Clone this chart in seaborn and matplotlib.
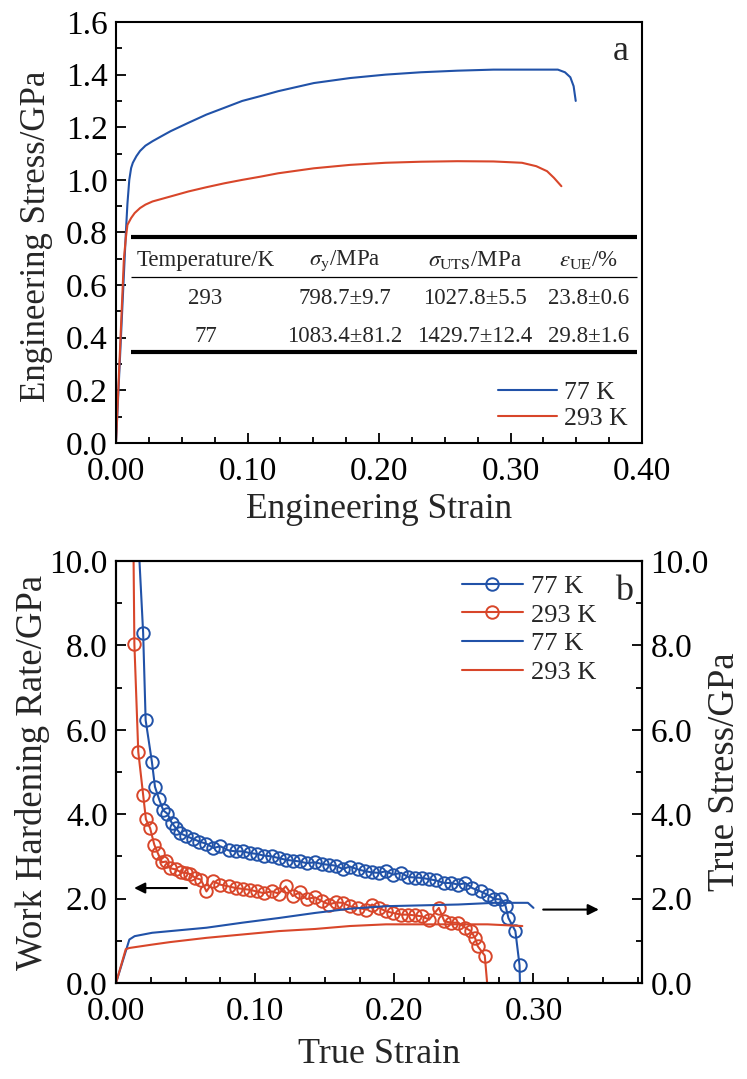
import numpy as np
import pandas as pd
import matplotlib
matplotlib.use("Agg")
import matplotlib.pyplot as plt
from matplotlib.ticker import MultipleLocator, FormatStrFormatter
import seaborn as sns

# ---------------- data: panel a (engineering curves) ----------------
eng_strain_77 = [0.0, 0.0075, 0.0087, 0.0101, 0.0115, 0.0128, 0.0155, 0.0183, 0.0224, 0.0278,
                 0.0346, 0.0415, 0.0551, 0.0687, 0.0824, 0.096, 0.1096, 0.1233, 0.1505, 0.178,
                 0.205, 0.232, 0.2596, 0.287, 0.314, 0.336, 0.3414, 0.3455, 0.348, 0.3496]
eng_stress_77 = [0.0, 0.80, 0.91, 1.0, 1.045, 1.065, 1.09, 1.11, 1.13, 1.147,
                 1.166, 1.185, 1.217, 1.248, 1.274, 1.30, 1.318, 1.337, 1.368, 1.387,
                 1.40, 1.409, 1.415, 1.419, 1.419, 1.419, 1.409, 1.39, 1.356, 1.30]
eng_strain_293 = [0.0, 0.006, 0.0075, 0.0087, 0.0115, 0.0142, 0.0183, 0.0224, 0.0278, 0.0415,
                  0.0551, 0.0687, 0.0824, 0.096, 0.1096, 0.1233, 0.1505, 0.178, 0.205, 0.232,
                  0.2596, 0.287, 0.3087, 0.3196, 0.3278, 0.333, 0.3387]
eng_stress_293 = [0.0, 0.70, 0.78, 0.829, 0.855, 0.874, 0.893, 0.906, 0.918, 0.937,
                  0.956, 0.972, 0.987, 1.0, 1.012, 1.025, 1.044, 1.057, 1.065, 1.069,
                  1.071, 1.07, 1.065, 1.052, 1.033, 1.008, 0.976]

# table in panel a
table_header = ["Temperature/K", r"$\sigma_{\rm y}$/MPa", r"$\sigma_{\rm UTS}$/MPa", r"$\varepsilon_{\rm UE}$/%"]
table_row_293 = ["293", "798.7±9.7", "1027.8±5.5", "23.8±0.6"]
table_row_77 = ["77", "1083.4±81.2", "1429.7±12.4", "29.8±1.6"]

# ---------------- data: panel b ----------------
whr_strain_77 = [0.0164, 0.0195, 0.0213, 0.0258, 0.028, 0.031, 0.034, 0.037, 0.040, 0.043,
                 0.046, 0.050, 0.055, 0.060, 0.065, 0.070, 0.075, 0.081, 0.086, 0.091,
                 0.096, 0.101, 0.106, 0.112, 0.117, 0.122, 0.127, 0.132, 0.137, 0.143,
                 0.148, 0.153, 0.158, 0.163, 0.168, 0.174, 0.179, 0.184, 0.189, 0.194,
                 0.199, 0.205, 0.210, 0.215, 0.220, 0.225, 0.230, 0.236, 0.241, 0.246,
                 0.251, 0.256, 0.262, 0.267, 0.272, 0.277, 0.280, 0.282, 0.287, 0.290, 0.2905]
whr_77 = [10.3, 8.30, 6.23, 5.24, 4.65, 4.35, 4.09, 4.01, 3.80, 3.67,
          3.55, 3.49, 3.42, 3.35, 3.30, 3.20, 3.24, 3.14, 3.12, 3.12,
          3.08, 3.06, 3.02, 3.00, 2.96, 2.92, 2.90, 2.88, 2.84, 2.86,
          2.82, 2.80, 2.78, 2.70, 2.76, 2.69, 2.65, 2.62, 2.61, 2.65,
          2.57, 2.61, 2.51, 2.50, 2.49, 2.46, 2.43, 2.37, 2.37, 2.33,
          2.37, 2.25, 2.17, 2.09, 1.99, 1.98, 1.82, 1.54, 1.23, 0.42, -0.3]

whr_strain_293 = [0.0125, 0.0132, 0.0160, 0.0195, 0.0215, 0.0245, 0.0275, 0.030, 0.033, 0.036,
                  0.039, 0.043, 0.047, 0.050, 0.0535, 0.057, 0.061, 0.065, 0.070, 0.075,
                  0.081, 0.086, 0.091, 0.096, 0.101, 0.106, 0.112, 0.117, 0.122, 0.127,
                  0.132, 0.137, 0.143, 0.148, 0.153, 0.158, 0.163, 0.168, 0.174, 0.180,
                  0.184, 0.189, 0.194, 0.199, 0.205, 0.210, 0.215, 0.220, 0.225, 0.232,
                  0.236, 0.241, 0.246, 0.251, 0.255, 0.258, 0.260, 0.265, 0.2675]
whr_293 = [10.5, 8.04, 5.48, 4.46, 3.88, 3.67, 3.28, 3.08, 2.86, 2.88,
           2.72, 2.69, 2.62, 2.61, 2.58, 2.49, 2.45, 2.17, 2.41, 2.33,
           2.29, 2.25, 2.23, 2.21, 2.17, 2.13, 2.17, 2.12, 2.29, 2.06,
           2.15, 1.99, 2.03, 1.94, 1.86, 1.91, 1.90, 1.82, 1.78, 1.74,
           1.86, 1.78, 1.70, 1.66, 1.62, 1.62, 1.60, 1.58, 1.50, 1.78,
           1.46, 1.43, 1.43, 1.31, 1.23, 1.07, 0.87, 0.65, -0.3]

true_strain_77 = [0.0, 0.0096, 0.0134, 0.026, 0.039, 0.065, 0.091, 0.117, 0.143, 0.168,
                  0.194, 0.220, 0.246, 0.272, 0.296, 0.300]
true_stress_77 = [0.0, 1.03, 1.11, 1.19, 1.23, 1.31, 1.43, 1.54, 1.66, 1.76,
                  1.82, 1.84, 1.86, 1.90, 1.90, 1.78]
true_strain_293 = [0.0, 0.007, 0.0096, 0.026, 0.039, 0.065, 0.091, 0.117, 0.143, 0.168,
                   0.194, 0.220, 0.246, 0.267, 0.292]
true_stress_293 = [0.0, 0.80, 0.83, 0.91, 0.97, 1.07, 1.15, 1.23, 1.28, 1.35,
                   1.39, 1.39, 1.39, 1.39, 1.35]

BLUE = "#2152A8"
RED = "#D8462A"

# ---------------- style ----------------
sns.set_theme(style="ticks")
plt.rcParams["font.family"] = ["Liberation Serif", "DejaVu Serif"]
plt.rcParams["mathtext.fontset"] = "stix"
plt.rcParams["axes.linewidth"] = 1.5

W, H = 747, 1079
fig = plt.figure(figsize=(W / 100, H / 100), dpi=100)
ax_a = fig.add_axes([116 / W, 1 - 443 / H, 526 / W, 421 / H])
ax_b = fig.add_axes([116 / W, 1 - 983 / H, 526 / W, 422 / H])

TICK_FS = 24
LW = 1.5


def style_axis(ax):
    ax.tick_params(which="both", direction="in", top=False, right=False,
                   labelsize=TICK_FS, width=1.3, colors="black")
    ax.tick_params(which="major", length=7, pad=6)
    ax.tick_params(which="minor", length=4)
    for s in ax.spines.values():
        s.set_linewidth(1.5)
        s.set_color("black")


# ---------------- panel a ----------------
sns.lineplot(x=eng_strain_77, y=eng_stress_77, ax=ax_a, color=BLUE, lw=LW,
             sort=False, estimator=None, label="77 K")
sns.lineplot(x=eng_strain_293, y=eng_stress_293, ax=ax_a, color=RED, lw=LW,
             sort=False, estimator=None, label="293 K")
ax_a.set_xlim(0, 0.40)
ax_a.set_ylim(0, 1.6)
ax_a.xaxis.set_major_locator(MultipleLocator(0.1))
ax_a.xaxis.set_minor_locator(MultipleLocator(0.025))
ax_a.yaxis.set_major_locator(MultipleLocator(0.2))
ax_a.yaxis.set_minor_locator(MultipleLocator(0.1))
ax_a.xaxis.set_major_formatter(FormatStrFormatter("%.2f"))
ax_a.yaxis.set_major_formatter(FormatStrFormatter("%.1f"))
style_axis(ax_a)
ax_a.tick_params(axis="x", which="major", pad=10)
ax_a.set_xlabel("Engineering Strain", fontsize=25.5)
ax_a.set_ylabel("Engineering Stress/GPa", fontsize=25)
ax_a.xaxis.set_label_coords(0.5, -0.118)
ax_a.yaxis.set_label_coords(-0.12, 0.49)
ax_a.legend(loc="lower left", bbox_to_anchor=(0.727, 0.03), frameon=False,
            fontsize=18.5, handlelength=2.3, handletextpad=0.25, labelspacing=0.12,
            borderpad=0, borderaxespad=0)
ax_a.text(0.959, 0.93, "a", transform=ax_a.transAxes, fontsize=26,
          ha="center", va="center")

# table
x_lo, x_hi = 0.0114, 0.396
ax_a.hlines([0.781, 0.344], x_lo, x_hi, colors="black", lw=3.0)
ax_a.hlines([0.631], x_lo, x_hi, colors="black", lw=0.9)
col_x = [0.068, 0.174, 0.273, 0.359]
for cx, txt in zip(col_x, table_header):
    ax_a.text(cx, 0.694, txt, ha="center", va="center", fontsize=16.5)
for cx, txt in zip(col_x, table_row_293):
    ax_a.text(cx, 0.551, txt, ha="center", va="center", fontsize=16.5)
for cx, txt in zip(col_x, table_row_77):
    ax_a.text(cx, 0.404, txt, ha="center", va="center", fontsize=16.5)

# ---------------- panel b ----------------
ax_b2 = ax_b.twinx()
mk = dict(marker="o", markersize=9, markerfacecolor="none", markeredgewidth=1.4)
sns.lineplot(x=whr_strain_77, y=whr_77, ax=ax_b, color=BLUE, lw=LW, sort=False,
             estimator=None, markeredgecolor=BLUE, **mk)
sns.lineplot(x=whr_strain_293, y=whr_293, ax=ax_b, color=RED, lw=LW, sort=False,
             estimator=None, markeredgecolor=RED, **mk)
h1, h2 = ax_b.lines[-2], ax_b.lines[-1]
sns.lineplot(x=true_strain_77, y=true_stress_77, ax=ax_b2, color=BLUE, lw=LW,
             sort=False, estimator=None)
sns.lineplot(x=true_strain_293, y=true_stress_293, ax=ax_b2, color=RED, lw=LW,
             sort=False, estimator=None)
h3, h4 = ax_b2.lines[-2], ax_b2.lines[-1]

for ax in (ax_b, ax_b2):
    ax.set_xlim(0, 0.378)
    ax.set_ylim(0, 10)
    ax.yaxis.set_major_locator(MultipleLocator(2))
    ax.yaxis.set_minor_locator(MultipleLocator(1))
    ax.yaxis.set_major_formatter(FormatStrFormatter("%.1f"))
ax_b.xaxis.set_major_locator(MultipleLocator(0.1))
ax_b.xaxis.set_minor_locator(MultipleLocator(0.025))
ax_b.xaxis.set_major_formatter(FormatStrFormatter("%.2f"))
style_axis(ax_b)
style_axis(ax_b2)
ax_b.tick_params(axis="x", which="major", pad=10)
ax_b2.tick_params(which="both", left=False, right=True, labelleft=False,
                  labelright=True)
ax_b.set_xlabel("True Strain", fontsize=26)
ax_b.set_ylabel("Work Hardening Rate/GPa", fontsize=26.5)
ax_b2.set_ylabel("True Stress/GPa", fontsize=26.5)
ax_b.xaxis.set_label_coords(0.5, -0.13)
ax_b.yaxis.set_label_coords(-0.125, 0.5)
ax_b2.yaxis.set_label_coords(1.125, 0.5)

ax_b2.legend([h1, h2, h3, h4], ["77 K", "293 K", "77 K", "293 K"],
             loc="upper left", bbox_to_anchor=(0.658, 0.968), frameon=False,
             fontsize=19, handlelength=2.3, handletextpad=0.3, labelspacing=0.2,
             borderpad=0, borderaxespad=0)
ax_b2.text(0.965, 0.928, "b", transform=ax_b2.transAxes, fontsize=26,
           ha="center", va="center")

ax_b.annotate("", xy=(0.011, 2.25), xytext=(0.053, 2.25),
              arrowprops=dict(arrowstyle="-|>", color="black", lw=1.5,
                              mutation_scale=16))
ax_b.annotate("", xy=(0.349, 1.74), xytext=(0.305, 1.74),
              arrowprops=dict(arrowstyle="-|>", color="black", lw=1.5,
                              mutation_scale=16))

fig.savefig("out.png", dpi=100)
